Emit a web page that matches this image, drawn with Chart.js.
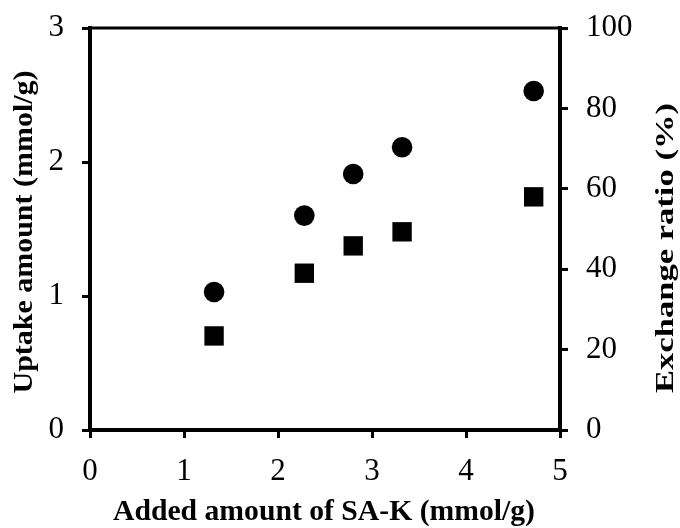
<!DOCTYPE html>
<html>
<head>
<meta charset="utf-8">
<script src="https://cdn.jsdelivr.net/npm/chart.js@4"></script>
<style>
  html, body { margin: 0; padding: 0; background: #fff; }
  #wrap { width: 680px; height: 528px; }
</style>
</head>
<body>
<div id="wrap"><canvas id="uptakeChart" width="680" height="528"></canvas></div>
<script>
// SA-K added vs. uptake (left axis) and exchange ratio (right axis)
const addedAmount = [1.32, 2.28, 2.80, 3.32, 4.72];
const uptakeAmount = [1.03, 1.60, 1.91, 2.11, 2.53];
const exchangeRatio = [23.4, 39.0, 45.8, 49.3, 58.0];

const xTicks = [0, 1, 2, 3, 4, 5];
const uptakeTicks = [0, 1, 2, 3];
const ratioTicks = [0, 20, 40, 60, 80, 100];

const serif = "'Liberation Serif', 'Times New Roman', serif";

// axis titles: font size, centre, angle, length along the text
const axisTitles = [
  { text: "Added amount of SA-K (mmol/g)", size: 30, x: 324, y: 512, angle: 0, length: 422 },
  { text: "Uptake amount (mmol/g)", size: 27, x: 25, y: 232, angle: -Math.PI / 2, length: 323 },
  { text: "Exchange ratio (%)", size: 26, x: 666, y: 248, angle: -Math.PI / 2, length: 290 },
];

// top frame line plus the three bold axis titles
const frameAndTitles = {
  id: "frameAndTitles",
  afterDraw(chart) {
    const { ctx, chartArea } = chart;
    ctx.save();
    ctx.strokeStyle = "#000";
    ctx.lineWidth = 3;
    ctx.beginPath();
    ctx.moveTo(chartArea.left, chartArea.top);
    ctx.lineTo(chartArea.right, chartArea.top);
    ctx.stroke();
    ctx.restore();

    axisTitles.forEach((t) => {
      ctx.save();
      ctx.font = "bold " + t.size + "px " + serif;
      ctx.fillStyle = "#000";
      ctx.textAlign = "center";
      ctx.textBaseline = "middle";
      const stretch = t.length / ctx.measureText(t.text).width;
      ctx.translate(t.x, t.y);
      ctx.rotate(t.angle);
      ctx.scale(stretch, 1);
      ctx.fillText(t.text, 0, 0);
      ctx.restore();
    });
  },
};

function toPoints(xs, ys) {
  return xs.map((x, i) => ({ x: x, y: ys[i] }));
}

function fixedTicks(values) {
  return (axis) => {
    axis.ticks = values.map((v) => ({ value: v }));
  };
}

const tickFont = { family: serif, size: 31 };
const tickGrid = {
  drawOnChartArea: false,
  tickLength: 8,
  lineWidth: 3,
  color: "#000",
};
const axisBorder = { display: true, color: "#000", width: 4 };

new Chart(document.getElementById("uptakeChart"), {
  type: "scatter",
  data: {
    datasets: [
      {
        label: "Uptake amount",
        data: toPoints(addedAmount, uptakeAmount),
        yAxisID: "y",
        pointStyle: "circle",
        pointRadius: 10.3,
        pointHoverRadius: 10.3,
        backgroundColor: "#000",
        borderWidth: 0,
      },
      {
        label: "Exchange ratio",
        data: toPoints(addedAmount, exchangeRatio),
        yAxisID: "y2",
        pointStyle: "rect",
        pointRadius: 13.7,
        pointHoverRadius: 13.7,
        backgroundColor: "#000",
        borderWidth: 0,
      },
    ],
  },
  options: {
    responsive: false,
    animation: false,
    events: [],
    layout: { padding: { top: 28, left: 0, right: 0, bottom: 0 } },
    plugins: {
      legend: { display: false },
      tooltip: { enabled: false },
    },
    scales: {
      x: {
        type: "linear",
        min: 0,
        max: 5,
        afterBuildTicks: fixedTicks(xTicks),
        afterFit(scale) {
          scale.height = 98;
          scale.paddingLeft = 0;
          scale.paddingRight = 0;
        },
        grid: tickGrid,
        border: axisBorder,
        ticks: { color: "#000", font: tickFont, padding: 15, maxRotation: 0 },
      },
      y: {
        type: "linear",
        position: "left",
        min: 0,
        max: 3,
        afterBuildTicks: fixedTicks(uptakeTicks),
        afterFit(scale) {
          scale.width = 90;
          scale.paddingTop = 0;
          scale.paddingBottom = 0;
        },
        grid: tickGrid,
        border: axisBorder,
        ticks: { color: "#000", font: tickFont, padding: 18 },
      },
      y2: {
        type: "linear",
        position: "right",
        min: 0,
        max: 100,
        afterBuildTicks: fixedTicks(ratioTicks),
        afterFit(scale) {
          scale.width = 120;
          scale.paddingTop = 0;
          scale.paddingBottom = 0;
        },
        grid: tickGrid,
        border: axisBorder,
        ticks: { color: "#000", font: tickFont, padding: 18 },
      },
    },
  },
  plugins: [frameAndTitles],
});
</script>
</body>
</html>
